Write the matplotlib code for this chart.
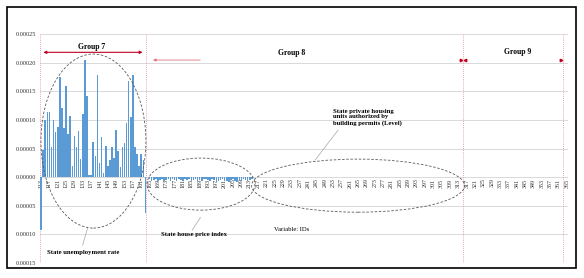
import numpy as np
import matplotlib.pyplot as plt
from matplotlib.patches import Ellipse, Rectangle
from matplotlib.ticker import FuncFormatter

plt.rcParams['font.family'] = ['Liberation Serif', 'DejaVu Serif']

# variable ids on the category axis
first_var = 113
last_var = 365
variables = np.arange(first_var, last_var + 1)
tick_vars = variables[::4]

# group 7: state unemployment rate, ids 113-163
group7_start = 113
group7_vals = [
    -0.000093, 0.000047, 0.000100, 0.000113, 0.000113, 0.000052, 0.000100,
    0.000078, 0.000088, 0.000175, 0.000120, 0.000085, 0.000160, 0.000075,
    0.000106, 0.000020, 0.000072, 0.000052, 0.000080, 0.000032, 0.000110,
    0.000205, 0.000142, 0.000003, 0.000004, 0.000062, 0.000037, 0.000178,
    0.000025, 0.000070, 0.000008, 0.000055, 0.000020, 0.000030, 0.000052,
    0.000033, 0.000082, 0.000045, 0.000018, 0.000052, 0.000060, 0.000095,
    0.000168, 0.000105, 0.000178, 0.000052, 0.000040, 0.000020, 0.000040,
    0.000030, -0.000063,
]

# group 8: state house price index, ids 165-214
group8_start = 165
group8_vals = [
    -0.000004, -0.000006, -0.000005, -0.000003, -0.000006, -0.000005, -0.000004,
    -0.000007, -0.000005, -0.000004, -0.000006, -0.000003, -0.000005, -0.000006,
    -0.000004, -0.000005, -0.000007, -0.000004, -0.000005, -0.000003, -0.000006,
    -0.000005, -0.000004, -0.000006, -0.000005, -0.000007, -0.000004, -0.000003,
    -0.000005, -0.000006, -0.000004, -0.000005, -0.000008, -0.000006, -0.000005,
    -0.000004, -0.000007, -0.000006, -0.000009, -0.000005, -0.000004, -0.000006,
    -0.000008, -0.000005, -0.000006, -0.000004, -0.000005, -0.000007, -0.000005,
    -0.000004,
]

group_edges = [112.5, 163.3, 315.2, 363.1]

values = np.zeros(len(variables))
i7 = group7_start - first_var
values[i7:i7 + len(group7_vals)] = group7_vals
i8 = group8_start - first_var
values[i8:i8 + len(group8_vals)] = group8_vals

W, H = 584, 278
fig = plt.figure(figsize=(W / 100, H / 100), dpi=100)
ax = fig.add_axes([40 / W, 15 / H, 528 / W, 229 / H])

ax.bar(variables, values, width=0.75, color='#5b9bd5', zorder=2)

ax.set_xlim(first_var - 0.5, last_var + 0.5)
ax.set_ylim(-0.00015, 0.00025)
ax.set_yticks(np.arange(-0.00015, 0.000251, 0.00005))
ax.yaxis.set_major_formatter(FuncFormatter(lambda v, p: f'{abs(v):.5f}'))
ax.set_xticks(tick_vars)
ax.set_xticklabels([str(v) for v in tick_vars])

ax.yaxis.grid(True, color='#d9d9d9', lw=0.7)
ax.set_axisbelow(True)
for s in ['top', 'right', 'left']:
    ax.spines[s].set_visible(False)
ax.spines['bottom'].set_position(('data', 0))
ax.spines['bottom'].set_visible(False)
ax.tick_params(axis='x', length=0, pad=1, labelsize=4.3, rotation=90, colors='#303030')
ax.tick_params(axis='y', length=0, pad=3, labelsize=4.5, colors='#303030')

# right edge of plot area
ax.axvline(last_var + 0.4, color='#bfbfbf', lw=0.5, ls=(0, (1, 1.5)), zorder=1)

# group boundaries
for x in group_edges:
    ax.axvline(x, color='#e8879a', lw=0.6, ls=(0, (1, 1.5)), zorder=1)

red = '#c00020'
ax.annotate('', xy=(group_edges[0] + 0.3, 0.000218), xytext=(group_edges[1] - 0.3, 0.000218),
            arrowprops=dict(arrowstyle='<|-|>', color=red, lw=0.8, mutation_scale=4))
ax.annotate('', xy=(group_edges[1] + 2, 0.0002045), xytext=(190.6, 0.0002045),
            arrowprops=dict(arrowstyle='-|>', color='#e07080', lw=0.6, mutation_scale=4))
ax.plot([group_edges[2] - 0.8], [0.0002045], marker='>', ms=1.8, color=red, ls='none')
ax.plot([group_edges[2] + 0.8], [0.0002045], marker='<', ms=1.8, color=red, ls='none')
ax.plot([group_edges[3] - 0.8], [0.0002045], marker='>', ms=1.8, color=red, ls='none')

ax.text(137.4, 0.000227, 'Group 7', fontsize=5.5, fontweight='bold', ha='center', va='center')
ax.text(233.1, 0.000217, 'Group 8', fontsize=5.5, fontweight='bold', ha='center', va='center')
ax.text(341.5, 0.000218, 'Group 9', fontsize=5.5, fontweight='bold', ha='center', va='center')

# dashed ellipses around each variable block
ell_style = dict(fill=False, ec='#595959', lw=0.6, ls=(0, (3, 2)), zorder=3)
ax.add_patch(Ellipse((138.1, 0.000063), 50.3, 0.000304, **ell_style))
ax.add_patch(Ellipse((189.6, -0.0000122), 51.7, 0.0000909, **ell_style))
ax.add_patch(Ellipse((264.9, -0.0000149), 102, 0.0000927, **ell_style))

# callouts
lead = dict(color='#a6a6a6', lw=0.5)
ax.plot([135.3, 132.9], [-0.0000892, -0.000119], **lead)
ax.text(115.9, -0.000131, 'State unemployment rate', fontsize=4.8, fontweight='bold', va='center')
ax.plot([189.4, 185.4], [-0.0000705, -0.0000927], **lead)
ax.text(170.3, -0.0000997, 'State house price index', fontsize=4.8, fontweight='bold', va='center')
ax.text(224.6, -0.0000909, 'Variable: IDs', fontsize=4.8, va='center')
ax.plot([255.3, 244.3], [0.000082, 0.0000297], **lead)
ax.text(252.9, 0.000119, 'State private housing\nunits authorized by\nbuilding permits (Level)',
        fontsize=4.8, fontweight='bold', va='top', linespacing=1.1)

fig.patches.append(Rectangle((7 / W, 1 - 268 / H), 569 / W, 261 / H, transform=fig.transFigure,
                             fill=False, ec='black', lw=1.2))

fig.savefig('out.png', dpi=100)
